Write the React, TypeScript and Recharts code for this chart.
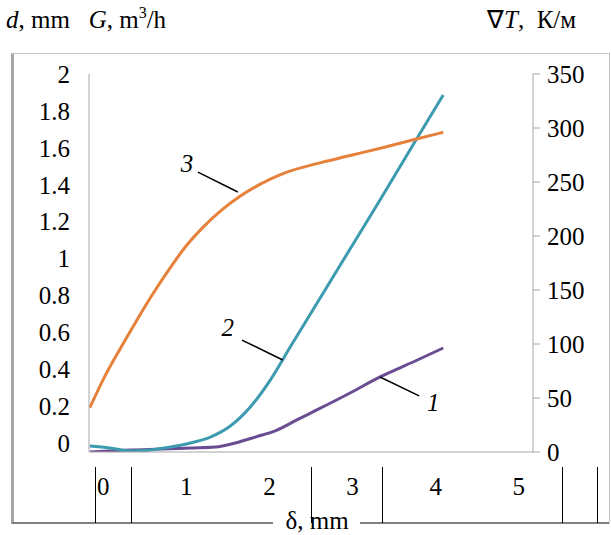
import {
  LineChart,
  Line,
  XAxis,
  YAxis,
  ReferenceLine,
  ReferenceDot,
} from 'recharts';

// curve 1 (purple), left axis
const delta1 = [-0.16, 0.08, 0.33, 0.69, 1.05, 1.35, 1.59, 1.83, 2.09, 2.33, 2.57, 2.97, 3.33, 3.78, 4.09];
const value1 = [-0.05, -0.045, -0.039, -0.034, -0.028, -0.023, -0.001, 0.031, 0.069, 0.124, 0.178, 0.27, 0.357, 0.449, 0.514];

// curve 2 (teal), left axis
const delta2 = [-0.16, 0.08, 0.33, 0.57, 0.81, 1.05, 1.29, 1.53, 1.77, 2.01, 2.25, 2.61, 2.97, 3.33, 3.69, 4.09];
const value2 = [-0.017, -0.028, -0.045, -0.039, -0.023, -0.001, 0.031, 0.091, 0.194, 0.34, 0.519, 0.785, 1.051, 1.317, 1.588, 1.886];

// curve 3 (orange), right axis, K/m
const delta3 = [-0.16, 0.02, 0.2, 0.39, 0.57, 0.81, 0.99, 1.2, 1.41, 1.65, 1.89, 2.17, 2.57, 2.97, 3.37, 3.78, 4.09];
const value3 = [41, 70, 95, 120, 143, 171, 190, 208, 223, 237, 248, 258, 267, 274.5, 282, 290, 296];

const xTicks = [0, 1, 2, 3, 4, 5];
const leftTicks = [0, 0.2, 0.4, 0.6, 0.8, 1, 1.2, 1.4, 1.6, 1.8, 2];
const rightTicks = [0, 50, 100, 150, 200, 250, 300, 350];

const toRows = (xs: number[], ys: number[]) => xs.map((x, i) => ({ x, y: ys[i] }));
const data1 = toRows(delta1, value1);
const data2 = toRows(delta2, value2);
const data3 = toRows(delta3, value3);

const FONT = '"Liberation Serif", "Times New Roman", serif';
const tickStyle = { fontSize: 25, fill: '#000', fontFamily: FONT };
const labelStyle = { fontSize: 25, fill: '#000', fontFamily: FONT, fontStyle: 'italic' };
const separators = [95.5, 131.5, 311.5, 382.5, 562.5, 597.5];

export default function App() {
  return (
    <div style={{ position: 'absolute', left: 0, top: 0, width: 611, height: 535, background: '#fff', fontFamily: FONT }}>
      <div style={{ position: 'absolute', left: 6, top: 6, fontSize: 25, lineHeight: '28px', whiteSpace: 'pre' }}>
        <i>d</i>, mm{'   '}<i>G</i>, m<sup style={{ fontSize: 16, verticalAlign: 10, lineHeight: 0 }}>3</sup>/h
      </div>
      <div style={{ position: 'absolute', left: 487, top: 6, fontSize: 25, lineHeight: '28px', whiteSpace: 'pre' }}>
        ∇<i>T</i>,  К/м
      </div>
      <svg width={611} height={535} style={{ position: 'absolute', left: 0, top: 0 }}>
        <line x1={12.5} y1={53} x2={12.5} y2={524} stroke="#a6a6a6" strokeWidth={3} />
        <line x1={12} y1={53.5} x2={609} y2={53.5} stroke="#c4c4c4" />
        <line x1={609.5} y1={53} x2={609.5} y2={524} stroke="#c4c4c4" />
        <line x1={12} y1={523} x2={273} y2={523} stroke="#808080" strokeWidth={2} />
        <line x1={360} y1={523} x2={609} y2={523} stroke="#808080" strokeWidth={2} />
        {separators.map((sx) => (
          <line key={sx} x1={sx} y1={467} x2={sx} y2={523} stroke="#000" />
        ))}
        <text x={317} y={529} textAnchor="middle" fontSize={25} fontFamily={FONT}>
          δ, mm
        </text>
      </svg>
      <div style={{ position: 'absolute', left: 0, top: 0 }}>
        <LineChart width={611} height={535} margin={{ top: 74, right: 8, bottom: 33, left: 29 }}>
          <XAxis
            type="number"
            dataKey="x"
            domain={[-0.17, 5.17]}
            ticks={xTicks}
            allowDataOverflow
            axisLine={{ stroke: '#a6a6a6' }}
            tickLine={false}
            tickSize={0}
            tickMargin={25}
            height={50}
            tick={tickStyle}
          />
          <YAxis
            yAxisId="left"
            domain={[-0.05, 2]}
            ticks={leftTicks}
            allowDataOverflow
            axisLine={{ stroke: '#a6a6a6' }}
            tickLine={false}
            tickSize={0}
            tickMargin={19}
            width={60}
            tick={tickStyle}
          />
          <YAxis
            yAxisId="right"
            orientation="right"
            domain={[0, 350]}
            ticks={rightTicks}
            axisLine={{ stroke: '#a6a6a6' }}
            tickLine={{ stroke: '#a6a6a6' }}
            tickSize={7}
            tickMargin={7}
            width={70}
            tick={tickStyle}
          />
          <Line yAxisId="left" data={data1} dataKey="y" type="monotone" stroke="#6a4c93" strokeWidth={3} dot={false} isAnimationActive={false} />
          <Line yAxisId="left" data={data2} dataKey="y" type="monotone" stroke="#3d9bb0" strokeWidth={3} dot={false} isAnimationActive={false} />
          <Line yAxisId="right" data={data3} dataKey="y" type="monotone" stroke="#e5813a" strokeWidth={3} dot={false} isAnimationActive={false} />
          <ReferenceLine yAxisId="left" segment={[{ x: 1.14, y: 1.468 }, { x: 1.62, y: 1.36 }]} stroke="#000" strokeWidth={1.5} />
          <ReferenceLine yAxisId="left" segment={[{ x: 1.67, y: 0.557 }, { x: 2.16, y: 0.449 }]} stroke="#000" strokeWidth={1.5} />
          <ReferenceLine yAxisId="left" segment={[{ x: 3.33, y: 0.357 }, { x: 3.8, y: 0.254 }]} stroke="#000" strokeWidth={1.5} />
          <ReferenceDot yAxisId="left" x={1.01} y={1.517} r={0} label={{ value: '3', position: 'center', ...labelStyle }} />
          <ReferenceDot yAxisId="left" x={1.5} y={0.628} r={0} label={{ value: '2', position: 'center', ...labelStyle }} />
          <ReferenceDot yAxisId="left" x={3.97} y={0.221} r={0} label={{ value: '1', position: 'center', ...labelStyle }} />
        </LineChart>
      </div>
    </div>
  );
}
